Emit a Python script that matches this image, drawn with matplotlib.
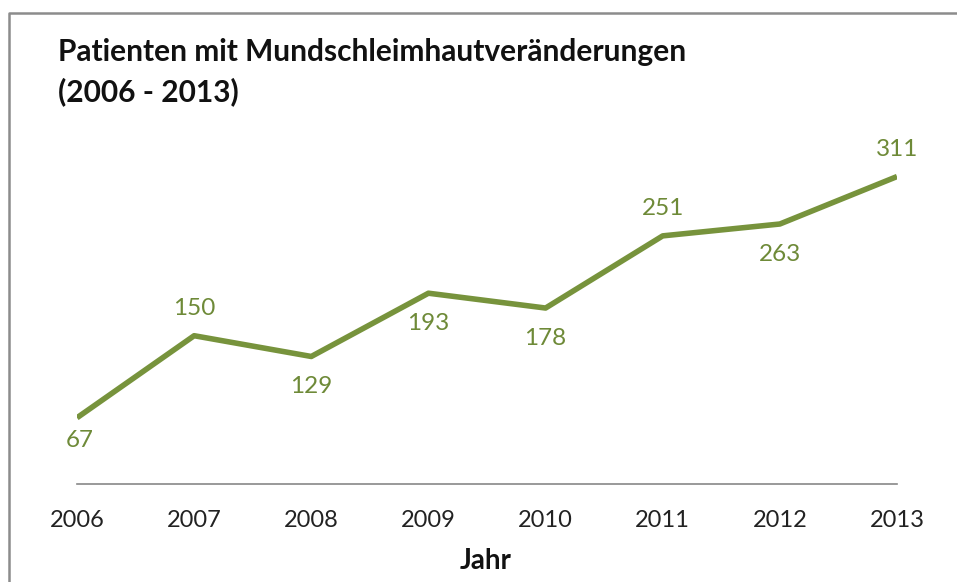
import matplotlib.pyplot as plt
from matplotlib.lines import Line2D

years = ['2006', '2007', '2008', '2009', '2010', '2011', '2012', '2013']
patients = [67, 150, 129, 193, 178, 251, 263, 311]
# label placement: +1 above the point, -1 below
label_side = [-1, 1, -1, -1, -1, 1, -1, 1]

green = '#77933C'
plt.rcParams['font.family'] = ['Lato', 'DejaVu Sans']

W, H = 957, 582
fig = plt.figure(figsize=(W / 100, H / 100), dpi=100)
ax = fig.add_axes([77 / W, 1 - 484 / H, (897 - 77) / W, (484 - 138) / H])

x = list(range(len(years)))
ax.plot(x, patients, color=green, linewidth=4, solid_capstyle='butt')
for xi, v, s in zip(x, patients, label_side):
    off = 27 if s > 0 else (-23 if xi == 0 else -30)
    ax.annotate(str(v), (xi, v), xytext=(3 if xi == 0 else 0, off), textcoords='offset pixels',
                ha='center', va='center', fontsize=17.5, color='#6e8a38')

ax.set_xlim(0, len(years) - 1)
ax.set_ylim(0, 350)
ax.set_xticks(x)
ax.set_xticklabels(years, fontsize=17, color='#222222')
ax.tick_params(axis='x', length=0, pad=19)
ax.set_yticks([])
for sp in ['top', 'right', 'left']:
    ax.spines[sp].set_visible(False)
ax.spines['bottom'].set_color('#888888')
ax.spines['bottom'].set_linewidth(1.2)

fig.text(486 / W, 1 - 561 / H, 'Jahr', fontsize=20, fontweight='bold', ha='center', va='center', color='#111111')
fig.text(58 / W, 1 - 52 / H, 'Patienten mit Mundschleimhautveränderungen',
         fontsize=21.5, fontweight='bold', ha='left', va='center', color='#111111')
fig.text(58 / W, 1 - 92 / H, '(2006 - 2013)',
         fontsize=21.5, fontweight='bold', ha='left', va='center', color='#111111')

# frame of the chart area: only left and top edges are inside the picture
fig.add_artist(Line2D([8.5 / W, 8.5 / W, 1.0], [0.0, 1 - 12.5 / H, 1 - 12.5 / H],
                      transform=fig.transFigure, color='#8c8c8c', linewidth=1.8))

fig.savefig('out.png', dpi=100)
